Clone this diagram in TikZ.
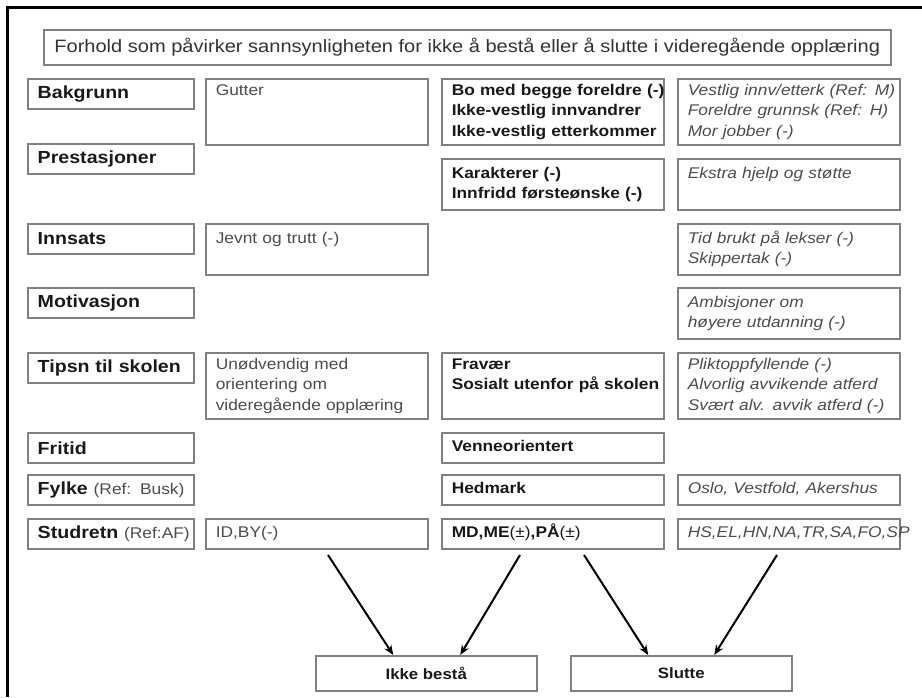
\documentclass[tikz,border=0pt]{standalone}
\usepackage{fontspec}
\setmainfont[FakeStretch=1.12]{Liberation Sans}
\usetikzlibrary{arrows.meta}

\definecolor{boxgray}{gray}{0.5}
\definecolor{txtdark}{gray}{0.1}
\definecolor{txtgray}{gray}{0.3}

\newcommand{\celltext}[1]{\begin{tabular}{@{}l@{}}#1\end{tabular}}

\tikzset{
  cellbox/.style={draw=boxgray, line width=1.5pt, anchor=north west,
    inner xsep=10pt, inner ysep=0pt, align=left},
  lab/.style={cellbox, text width=146pt, minimum height=30pt, text=txtdark,
    font=\fontsize{17.5}{21}\selectfont\bfseries},
  regcell/.style={cellbox, text width=202pt, text=txtgray,
    font=\fontsize{15.5}{20.7}\selectfont},
  boldcell/.style={regcell, text=txtdark,
    font=\fontsize{15.5}{20.7}\selectfont\bfseries},
  itcell/.style={regcell, font=\fontsize{15.5}{20.7}\selectfont\itshape},
  outcome/.style={draw=boxgray, line width=1.5pt, anchor=north west,
    minimum width=221pt, minimum height=35pt, text=txtdark,
    font=\fontsize{15}{18}\selectfont\bfseries},
  effect/.style={line width=2pt, -{Stealth[length=10pt,width=8pt]}}
}

\begin{document}
\begin{tikzpicture}[x=1pt,y=-1pt]
    \useasboundingbox (0,0) rectangle (922,697);
    % frame
    \draw[line width=3pt] (7.5,697) -- (7.5,7) -- (922,7);
    % heading
    \node[draw=boxgray, line width=1.5pt, anchor=north west, minimum width=847pt,
      minimum height=35pt, text={black!80}, font=\fontsize{17.9}{21}\selectfont]
      (title) at (43,29)
      {Forhold som påvirker sannsynligheten for ikke å bestå eller å slutte i videregående opplæring};
    % factor labels
    \foreach \n/\t/\y in {bakgrunn/Bakgrunn/78, prestasjoner/Prestasjoner/143,
        innsats/Innsats/223, motivasjon/Motivasjon/287, tipsn/Tipsn til skolen/352,
        fritid/Fritid/432,
        fylke/{\mbox{Fylke {\mdseries\fontsize{15.5}{18}\selectfont\color{txtgray}(Ref: Busk)}}}/474,
        studretn/{\mbox{Studretn {\mdseries\fontsize{15.5}{18}\selectfont\color{txtgray}(Ref:AF)}}}/518}
      {\node[lab] (\n) at (27,\y) {\t};}
    % Bakgrunn
    \node[regcell, minimum height=66pt] (gutter) at (205,78) {\celltext{Gutter\\~\\~}};
    \node[boldcell, minimum height=66pt] (bomed) at (441,78)
      {\celltext{Bo med begge foreldre (-)\\Ikke-vestlig innvandrer\\Ikke-vestlig etterkommer}};
    \node[itcell, minimum height=66pt] (vestlig) at (677,78)
      {\celltext{Vestlig innv/etterk (Ref: M)\\Foreldre grunnsk (Ref: H)\\Mor jobber (-)}};
    % Prestasjoner
    \node[boldcell, minimum height=51pt] (karakterer) at (441,158)
      {\celltext{Karakterer (-)\\Innfridd førsteønske (-)}};
    \node[itcell, minimum height=51pt] (ekstra) at (677,158)
      {\celltext{Ekstra hjelp og støtte\\~}};
    % Innsats
    \node[regcell, minimum height=51pt] (jevnt) at (205,223)
      {\celltext{Jevnt og trutt (-)\\~}};
    \node[itcell, minimum height=51pt] (lekser) at (677,223)
      {\celltext{Tid brukt på lekser (-)\\Skippertak (-)}};
    % Motivasjon
    \node[itcell, minimum height=51pt] (ambisjoner) at (677,287)
      {\celltext{Ambisjoner om\\høyere utdanning (-)}};
    % Tipsn til skolen
    \node[regcell, minimum height=66pt] (orientering) at (205,352)
      {\celltext{Unødvendig med\\orientering om\\videregående opplæring}};
    \node[boldcell, minimum height=66pt] (fravaer) at (441,352)
      {\celltext{Fravær\\Sosialt utenfor på skolen\\~}};
    \node[itcell, minimum height=66pt] (plikt) at (677,352)
      {\celltext{Pliktoppfyllende (-)\\Alvorlig avvikende atferd\\Svært alv. avvik atferd (-)}};
    % Fritid, Fylke, Studretn
    \node[boldcell, minimum height=30pt] (venner) at (441,432) {\celltext{Venneorientert}};
    \node[boldcell, minimum height=30pt] (hedmark) at (441,474) {\celltext{Hedmark}};
    \node[itcell, minimum height=30pt] (oslo) at (677,474) {\celltext{Oslo, Vestfold, Akershus}};
    \node[regcell, minimum height=30pt] (idby) at (205,518) {\celltext{ID,BY(-)}};
    \node[boldcell, minimum height=30pt] (mdme) at (441,518)
      {\celltext{MD,ME{\mdseries(±)},PÅ{\mdseries(±)}}};
    \node[itcell, minimum height=30pt] (hsel) at (677,518) {\celltext{HS,EL,HN,NA,TR,SA,FO,SP}};
    % outcomes
    \node[outcome] (ikke) at (315,655) {Ikke bestå};
    \node[outcome] (slutte) at (570,655) {Slutte};
    % arrows
    \coordinate (s1) at (328,555);
    \coordinate (s2) at (520,555);
    \coordinate (s3) at (584,555);
    \coordinate (s4) at (777,555);
    \draw[effect] (s1) -- ([xshift=-33pt]ikke.north);
    \draw[effect] (s2) -- ([xshift=34pt]ikke.north);
    \draw[effect] (s3) -- ([xshift=-33pt]slutte.north);
    \draw[effect] (s4) -- ([xshift=33pt]slutte.north);
\end{tikzpicture}
\end{document}
